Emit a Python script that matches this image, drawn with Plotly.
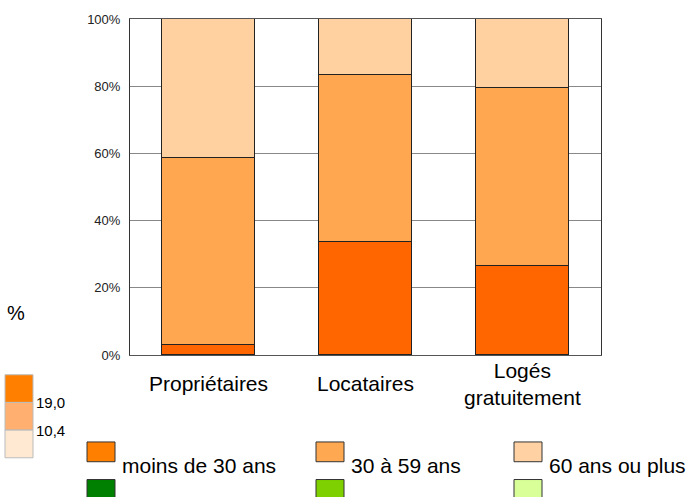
import plotly.graph_objects as go

categories = ["Propriétaires", "Locataires", "Logés<br>gratuitement"]
moins_30 = [3.0, 33.6, 26.5]
de_30_59 = [55.7, 49.6, 53.1]
plus_60 = [41.3, 16.8, 20.4]
series_names = ["moins de 30 ans", "30 à 59 ans", "60 ans ou plus"]
y_ticks = [0, 20, 40, 60, 80, 100]
y_ticklabels = ["0%", "20%", "40%", "60%", "80%", "100%"]
scale_labels = ["19,0", "10,4"]

bar_colors = ["#FF6600", "#FFA650", "#FFD0A0"]
legend_colors_top = ["#FF8000", "#FFA852", "#FFD1A3"]
legend_colors_bot = ["#008000", "#7FD000", "#D8FF98"]
scale_colors = ["#FF8000", "#FFB070", "#FFE9D2"]

W, H = 687, 497
L, R, T, B = 130, 86, 15, 142
pw, ph = W - L - R, H - T - B

def px(x):
    return (x - L) / pw

def py(y):
    return (H - B - y) / ph

FONT = "Liberation Sans, Arial, sans-serif"

fig = go.Figure()
for name, vals, col in zip(series_names, [moins_30, de_30_59, plus_60], bar_colors):
    fig.add_trace(go.Bar(
        x=list(range(len(categories))), y=vals, name=name,
        marker=dict(color=col, line=dict(color="#222222", width=1)),
        width=0.59, showlegend=False,
    ))

shapes = []
annotations = []

# x category labels
for i, c in enumerate(categories):
    annotations.append(dict(x=i, y=py(384), xref="x", yref="paper", text=c,
                            showarrow=False, xanchor="center", yanchor="middle",
                            font=dict(size=21, color="#000", family=FONT)))

# "%" label
annotations.append(dict(x=px(16), y=py(312), xref="paper", yref="paper", text="%",
                        showarrow=False, xanchor="center", yanchor="middle",
                        font=dict(size=20, color="#000", family=FONT)))

# scale legend at left
sy = [375, 403, 431, 459]
for k, col in enumerate(scale_colors):
    shapes.append(dict(type="rect", xref="paper", yref="paper",
                       x0=px(5), x1=px(33), y0=py(sy[k + 1]), y1=py(sy[k]),
                       fillcolor=col, line=dict(color="#BBBBBB", width=1)))
for k, lab in enumerate(scale_labels):
    annotations.append(dict(x=px(34), y=py(sy[k + 1]), xref="paper", yref="paper",
                            text=lab, showarrow=False, xanchor="left", yanchor="middle",
                            font=dict(size=15, color="#000", family=FONT)))

# bottom legend
bx = [87, 316, 514]
for k in range(3):
    shapes.append(dict(type="rect", xref="paper", yref="paper",
                       x0=px(bx[k]), x1=px(bx[k] + 28), y0=py(463), y1=py(443),
                       fillcolor=legend_colors_top[k], line=dict(color="#333333", width=1)))
    shapes.append(dict(type="rect", xref="paper", yref="paper",
                       x0=px(bx[k]), x1=px(bx[k] + 28), y0=py(501), y1=py(481),
                       fillcolor=legend_colors_bot[k], line=dict(color="#333333", width=1)))
    annotations.append(dict(x=px(bx[k] + 33), y=py(467), xref="paper", yref="paper",
                            text=series_names[k], showarrow=False, xanchor="left",
                            yanchor="middle",
                            font=dict(size=21, color="#000", family=FONT)))

fig.update_layout(
    width=W, height=H,
    margin=dict(l=L, r=R, t=T, b=B, pad=0),
    barmode="stack",
    bargap=0,
    plot_bgcolor="white", paper_bgcolor="white",
    shapes=shapes, annotations=annotations,
    showlegend=False,
    xaxis=dict(range=[-0.5, 2.5], showticklabels=False, showgrid=False,
               showline=True, linecolor="#555555", linewidth=1, mirror=True,
               zeroline=False, ticks=""),
    yaxis=dict(range=[0, 100], tickvals=y_ticks, ticktext=y_ticklabels,
               showgrid=True, gridcolor="#888888", gridwidth=1,
               showline=True, linecolor="#333333", linewidth=1, mirror=True,
               zeroline=False, ticks="", ticklabelstandoff=6,
               tickfont=dict(size=13, color="#222", family=FONT)),
)

fig.write_html("out.html", config={"displayModeBar": False},
               post_script="document.body.style.margin='0';document.body.style.overflow='hidden';")
